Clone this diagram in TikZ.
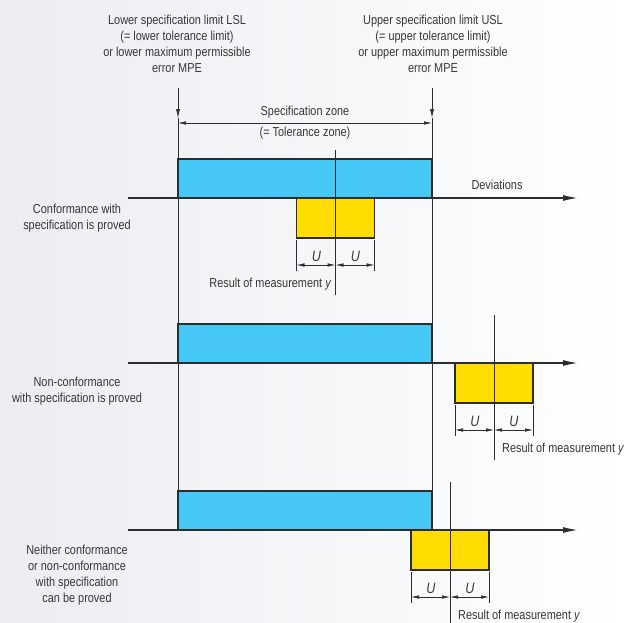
\documentclass[tikz,border=0pt]{standalone}
\usepackage{fontspec}
\setmainfont{Liberation Sans}[FakeStretch=0.84]
\usetikzlibrary{arrows.meta,positioning}

\definecolor{bgleft}{RGB}{235,237,241}
\definecolor{linegray}{RGB}{45,45,45}
\definecolor{textgray}{RGB}{55,55,55}
\definecolor{specblue}{RGB}{69,200,245}
\definecolor{measyellow}{RGB}{255,221,0}

\begin{document}
\begin{tikzpicture}[x=1pt, y=-1pt,
    thinline/.style={draw=linegray, line width=0.6pt},
    zonebox/.style={draw=linegray, line width=1.3pt, fill=specblue},
    measbox/.style={draw=linegray, line width=1.3pt, fill=measyellow},
    axisline/.style={draw=linegray, line width=1.5pt, -{Latex[length=15pt,width=6pt]}},
    limitarrow/.style={thinline, -{Latex[length=9pt,width=4pt]}},
    dimline/.style={thinline, {Latex[length=8pt,width=3.5pt]}-{Latex[length=8pt,width=3.5pt]}},
    lbl/.style={font=\fontsize{13}{16}\selectfont, text=textgray, align=center, inner sep=0pt},
    ulbl/.style={font=\fontsize{15}{16}\selectfont\itshape, text=textgray, inner sep=0pt},
  ]
  % background
  \fill[left color=bgleft, right color=white] (0,0) rectangle (632,622);
  \useasboundingbox (0,0) rectangle (632,622);

  % limits
  \node[lbl] (lsltext) at (177,44) {Lower specification limit LSL\\(= lower tolerance limit)\\or lower maximum permissible\\error MPE};
  \node[lbl] (usltext) at (433,44) {Upper specification limit USL\\(= upper tolerance limit)\\or upper maximum permissible\\error MPE};
  \coordinate (lsltop) at (178,88);
  \coordinate (usltop) at (432,88);
  \coordinate (lsl) at (178,118);
  \coordinate (usl) at (432,118);
  \coordinate (lslend) at (178,530);
  \coordinate (uslend) at (432,530);
  \draw[limitarrow] (lsltop) -- (lsl);
  \draw[limitarrow] (usltop) -- (usl);
  \draw[thinline] (lsl) -- (lslend);
  \draw[thinline] (usl) -- (uslend);

  \coordinate (zoneleft) at (178,123);
  \coordinate (zoneright) at (432,123);
  \draw[dimline] (zoneleft) -- (zoneright);
  \node[lbl] (zonetext) at (305,112) {Specification zone};
  \node[lbl] (zonetext2) at (305,133) {(= Tolerance zone)};

  % the three cases
  \foreach \a/\m/\ly/\txt/\ra/\rx/\n in {
      198/335.5/218/{Conformance with\\specification is proved}/east/-4/1,
      363/494/391/{Non-conformance\\with specification is proved}/west/8/2,
      530/450/575/{Neither conformance\\or non-conformance\\with specification\\can be proved}/west/8/3}{
    \filldraw[zonebox] (178,\a-39) rectangle (432,\a);
    \coordinate (axisstart\n) at (128,\a);
    \coordinate (axisend\n) at (578,\a);
    \draw[axisline] (axisstart\n) -- (axisend\n);
    \filldraw[measbox] (\m-39,\a) rectangle (\m+39,\a+40);
    \coordinate (ytop\n) at (\m,\a-48);
    \coordinate (ybot\n) at (\m,\a+97);
    \draw[draw=linegray, line width=1pt] (ytop\n) -- (ybot\n);
    \coordinate (uleft\n) at (\m-39,\a+67);
    \coordinate (umid\n) at (\m,\a+67);
    \coordinate (uright\n) at (\m+39,\a+67);
    \draw[thinline] (\m-39,\a+42) -- (\m-39,\a+73);
    \draw[thinline] (\m+39,\a+42) -- (\m+39,\a+73);
    \draw[dimline] (uleft\n) -- (umid\n);
    \draw[dimline] (umid\n) -- (uright\n);
    \node[ulbl] (ua\n) at (\m-19,\a+58) {U};
    \node[ulbl] (ub\n) at (\m+20,\a+58) {U};
    \node[lbl, anchor=\ra] (result\n) at (\m+\rx,\a+86) {Result of measurement \textit{y}};
    \node[lbl] (case\n) at (77,\ly) {\txt};
  }
  \node[lbl] (devtext) at (497,185) {Deviations};
\end{tikzpicture}
\end{document}
